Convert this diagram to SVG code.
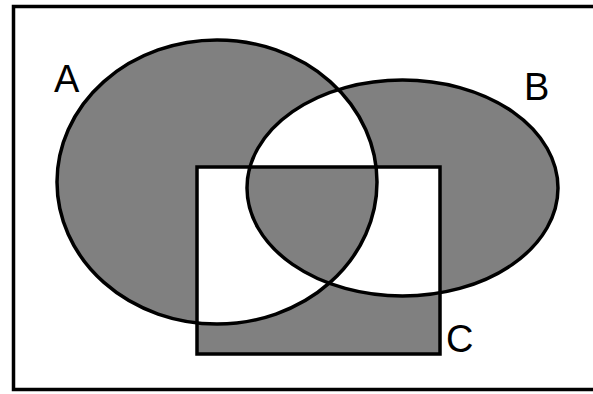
<svg xmlns="http://www.w3.org/2000/svg" width="593" height="394" viewBox="0 0 593 394">
<style>
.edge{fill:none;stroke:#000;stroke-width:3.5}
.lbl{font-family:"Liberation Sans",Arial,sans-serif;font-size:38px;fill:#000}
.shade{fill:#808080;fill-rule:evenodd;stroke:none}
</style>
<rect x="0" y="0" width="593" height="394" fill="#fff"/>
<g id="universe"><rect class="edge" x="13.5" y="6.5" width="590" height="383"/></g>
<g id="regions">
<path class="shade" d="M57,182 a160,142 0 1,0 320,0 a160,142 0 1,0 -320,0 Z M247,188 a155.5,108 0 1,0 311,0 a155.5,108 0 1,0 -311,0 Z M197,167 H440 V354 H197 Z"/>
</g>
<g id="A"><ellipse class="edge" cx="217" cy="182" rx="160" ry="142"/><text class="lbl" x="54" y="92">A</text></g>
<g id="B"><ellipse class="edge" cx="402.5" cy="188" rx="155.5" ry="108"/><text class="lbl" x="524" y="100">B</text></g>
<g id="C"><rect class="edge" x="197" y="167" width="243" height="187"/><text class="lbl" x="446" y="352">C</text></g>
<g id="connectors"></g>
</svg>
